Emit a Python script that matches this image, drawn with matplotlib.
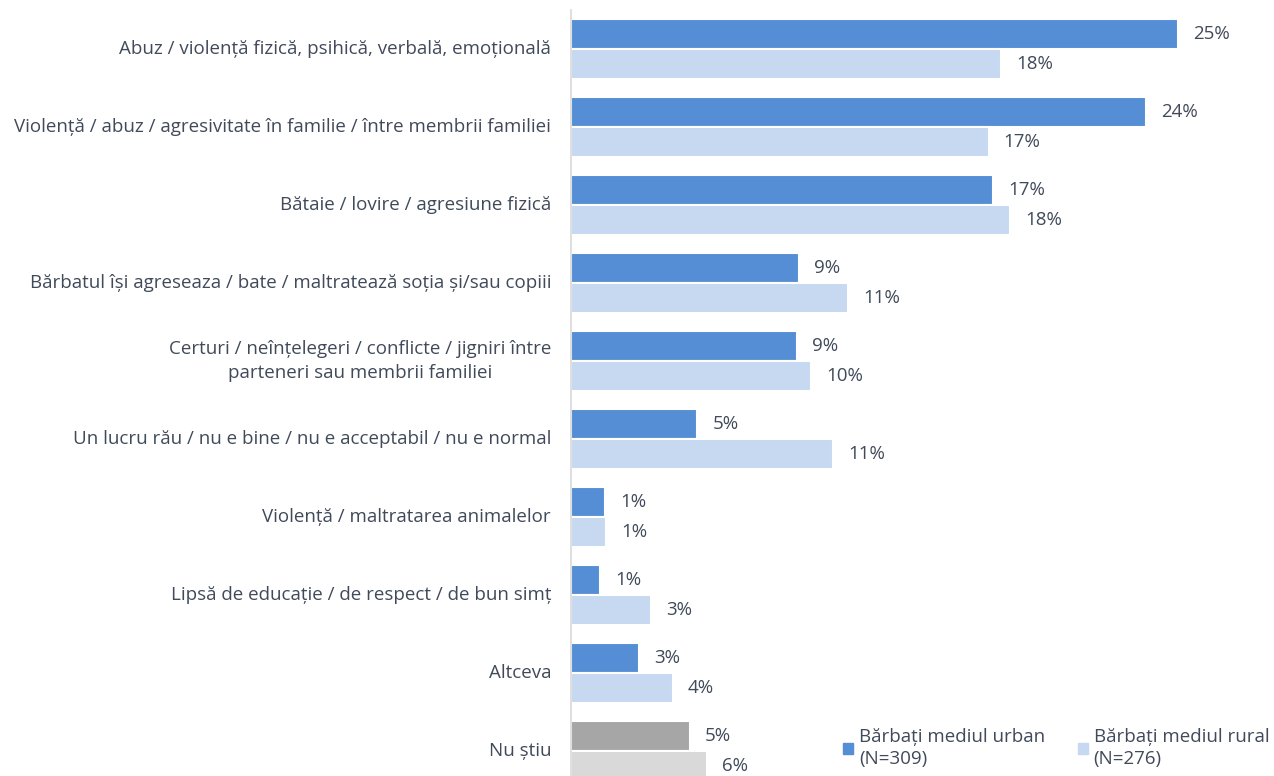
import matplotlib.pyplot as plt
from matplotlib.patches import Patch

categories = [
    'Abuz / violență fizică, psihică, verbală, emoțională',
    'Violență / abuz / agresivitate în familie / între membrii familiei',
    'Bătaie / lovire / agresiune fizică',
    'Bărbatul își agreseaza / bate / maltratează soția și/sau copiii',
    'Certuri / neînțelegeri / conflicte / jigniri între\nparteneri sau membrii familiei',
    'Un lucru rău / nu e bine / nu e acceptabil / nu e normal',
    'Violență / maltratarea animalelor',
    'Lipsă de educație / de respect / de bun simț',
    'Altceva',
    'Nu știu',
]
urban = [25.0, 23.7, 17.4, 9.4, 9.3, 5.2, 1.4, 1.2, 2.8, 4.9]
rural = [17.7, 17.2, 18.1, 11.4, 9.9, 10.8, 1.45, 3.3, 4.2, 5.6]
series_names = ['Bărbați mediul urban\n(N=309)', 'Bărbați mediul rural\n(N=276)']

c_urban = '#558ED5'
c_rural = '#C6D9F1'
c_urban_ns = '#A6A6A6'
c_rural_ns = '#D9D9D9'
txt = '#404A5A'
fs = 13.5

plt.rcParams['font.family'] = ['Open Sans', 'DejaVu Sans']

fig = plt.figure(figsize=(12.74, 7.76), dpi=100)
ax = fig.add_axes([571 / 1274, 0, 1 - 571 / 1274, 766 / 776])

y = list(range(len(categories)))
cu = [c_urban] * (len(y) - 1) + [c_urban_ns]
cr = [c_rural] * (len(y) - 1) + [c_rural_ns]
off = 0.192
h = 0.385
ax.barh([i - off for i in y], urban, height=h, color=cu, edgecolor='white', linewidth=1.5)
ax.barh([i + off for i in y], rural, height=h, color=cr, edgecolor='white', linewidth=1.5)

for i in y:
    ax.text(urban[i] + 0.62, i - off, f'{round(urban[i]):.0f}%', va='center', ha='left', fontsize=fs, color=txt)
    ax.text(rural[i] + 0.62, i + off, f'{round(rural[i]):.0f}%', va='center', ha='left', fontsize=fs, color=txt)
    ax.text(-0.82, i, categories[i], va='center', ha='right', fontsize=fs, color=txt,
            multialignment='center', linespacing=1.45)

ax.set_xlim(0, 703 / 24.28)
ax.set_ylim(9.32, -0.5)
ax.set_xticks([])
ax.set_yticks([])
for s in ['top', 'right', 'bottom']:
    ax.spines[s].set_visible(False)
ax.spines['left'].set_color('#D9D9D9')
ax.spines['left'].set_linewidth(1.2)

handles = [Patch(color=c_urban), Patch(color=c_rural)]
leg = fig.legend(handles, series_names, loc='lower left', bbox_to_anchor=(826 / 1274, -0.012), ncol=2,
                 frameon=False, fontsize=fs, labelcolor=txt, handlelength=0.55, handleheight=0.55,
                 handletextpad=0.3, columnspacing=1.75)
for t in leg.get_texts():
    t.set_linespacing(1.35)

fig.savefig('out.png', dpi=100)
